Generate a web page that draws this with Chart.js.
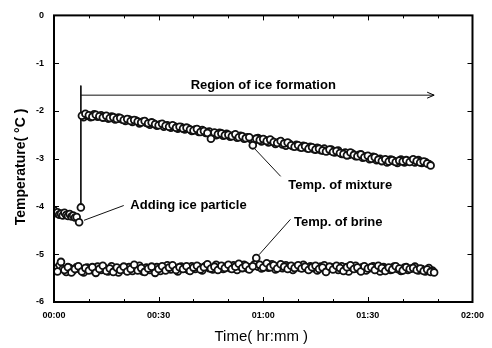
<!DOCTYPE html>
<html>
<head>
<meta charset="utf-8">
<script src="https://cdn.jsdelivr.net/npm/chart.js@4"></script>
<style>
  html, body { margin: 0; padding: 0; background: #fff; }
  #wrap { width: 492px; height: 348px; }
</style>
</head>
<body>
<div id="wrap"><canvas id="myChart" width="492" height="348"></canvas></div>
<script>
// time in minutes, temperature in deg C
const earlyTimes = [0, 0.5, 1, 1.5, 2, 2.5, 3, 3.5, 4, 4.5, 5, 5.5, 6, 6.5, 7.2, 7.7];
const earlyTemps = [-4.08, -4.14, -4.12, -4.17, -4.15, -4.19, -4.13, -4.18, -4.20, -4.16, -4.21, -4.19, -4.23, -4.22, -4.33, -4.02];

const mixTimes = [8, 9, 10, 11, 12, 13, 14, 15, 16, 17, 18, 19, 20, 21, 22, 23, 24, 25, 26, 27, 28, 29,
  30, 31, 32, 33, 34, 35, 36, 37, 38, 39, 40, 41, 42, 43, 44, 45, 46, 47, 48, 49, 50, 51, 52, 53, 54,
  55, 56, 57, 58, 59, 60, 61, 62, 63, 64, 65, 66, 67, 68, 69, 70, 71, 72, 73, 74, 75, 76, 77, 78, 79,
  80, 81, 82, 83, 84, 85, 86, 87, 88, 89, 90, 91, 92, 93, 94, 95, 96, 97, 98, 99, 100, 101, 102, 103,
  104, 105, 106, 107, 108];
const mixTemps = [-2.10, -2.06, -2.09, -2.12, -2.08, -2.11, -2.14, -2.10, -2.15, -2.13, -2.17, -2.15,
  -2.19, -2.17, -2.21, -2.19, -2.22, -2.24, -2.21, -2.26, -2.24, -2.28, -2.30, -2.27, -2.31, -2.33,
  -2.30, -2.35, -2.33, -2.37, -2.35, -2.39, -2.41, -2.38, -2.44, -2.42, -2.46, -2.58, -2.45, -2.49,
  -2.47, -2.51, -2.50, -2.53, -2.49, -2.55, -2.53, -2.57, -2.55, -2.72, -2.58, -2.61, -2.59, -2.63,
  -2.60, -2.65, -2.67, -2.63, -2.68, -2.66, -2.72, -2.75, -2.72, -2.77, -2.74, -2.79, -2.76, -2.81,
  -2.79, -2.83, -2.85, -2.81, -2.86, -2.84, -2.88, -2.90, -2.93, -2.87, -2.92, -2.95, -2.91, -2.97,
  -2.94, -3.00, -2.97, -3.02, -3.05, -3.01, -3.06, -3.03, -3.07, -3.04, -3.06, -3.03, -3.07, -3.01,
  -3.05, -3.08, -3.06, -3.10, -3.14];

// readings taken between the whole minutes
const mixHalfTimes = [
  8.5, 9.5, 10.5, 11.5, 12.5, 13.5, 14.5, 15.5, 16.5, 17.5,
  18.5, 19.5, 20.5, 21.5, 22.5, 23.5, 24.5, 25.5, 26.5, 27.5,
  28.5, 29.5, 30.5, 31.5, 32.5, 33.5, 34.5, 35.5, 36.5, 37.5,
  38.5, 39.5, 40.5, 41.5, 42.5, 43.5, 44.5, 45.5, 46.5, 47.5,
  48.5, 49.5, 50.5, 51.5, 52.5, 53.5, 54.5, 55.5, 56.5, 57.5,
  58.5, 59.5, 60.5, 61.5, 62.5, 63.5, 64.5, 65.5, 66.5, 67.5,
  68.5, 69.5, 70.5, 71.5, 72.5, 73.5, 74.5, 75.5, 76.5, 77.5,
  78.5, 79.5, 80.5, 81.5, 82.5, 83.5, 84.5, 85.5, 86.5, 87.5,
  88.5, 89.5, 90.5, 91.5, 92.5, 93.5, 94.5, 95.5, 96.5, 97.5,
  98.5, 99.5, 100.5, 101.5, 102.5, 103.5, 104.5, 105.5, 106.5, 107.5];
const mixHalfTemps = [
  -2.13, -2.10, -2.13, -2.07, -2.12, -2.09, -2.13, -2.16, -2.12, -2.18,
  -2.14, -2.18, -2.21, -2.18, -2.23, -2.20, -2.26, -2.22, -2.25, -2.29,
  -2.26, -2.31, -2.28, -2.33, -2.30, -2.35, -2.32, -2.37, -2.34, -2.39,
  -2.37, -2.42, -2.39, -2.44, -2.40, -2.46, -2.43, -2.48, -2.51, -2.46,
  -2.52, -2.48, -2.54, -2.51, -2.56, -2.52, -2.58, -2.55, -2.59, -2.62,
  -2.57, -2.64, -2.61, -2.66, -2.63, -2.69, -2.65, -2.70, -2.73, -2.69,
  -2.74, -2.71, -2.76, -2.73, -2.78, -2.75, -2.80, -2.77, -2.82, -2.79,
  -2.84, -2.81, -2.87, -2.83, -2.90, -2.87, -2.92, -2.89, -2.95, -2.92,
  -2.98, -2.95, -3.01, -2.96, -3.03, -3.00, -3.04, -3.08, -3.02, -3.05,
  -3.09, -3.02, -3.08, -3.05, -3.04, -3.08, -3.03, -3.09, -3.07, -3.11];

const brineTimes = [0, 1, 2, 3, 4, 5, 6, 7, 8, 9, 10, 11, 12, 13, 14, 15, 16, 17, 18, 19, 20, 21, 22,
  23, 24, 25, 26, 27, 28, 29, 30, 31, 32, 33, 34, 35, 36, 37, 38, 39, 40, 41, 42, 43, 44, 45, 46, 47,
  48, 49, 50, 51, 52, 53, 54, 55, 56, 57, 58, 59, 60, 61, 62, 63, 64, 65, 66, 67, 68, 69, 70, 71, 72,
  73, 74, 75, 76, 77, 78, 79, 80, 81, 82, 83, 84, 85, 86, 87, 88, 89, 90, 91, 92, 93, 94, 95, 96, 97,
  98, 99, 100, 101, 102, 103, 104, 105, 106, 107, 108, 109];
const brineTemps = [-5.30, -5.36, -5.16, -5.33, -5.27, -5.38, -5.31, -5.25, -5.36, -5.29, -5.34,
  -5.27, -5.39, -5.31, -5.24, -5.35, -5.30, -5.37, -5.28, -5.33, -5.26, -5.36, -5.31, -5.22, -5.34,
  -5.29, -5.37, -5.30, -5.26, -5.39, -5.31, -5.25, -5.34, -5.28, -5.23, -5.33, -5.27, -5.31, -5.25,
  -5.35, -5.28, -5.24, -5.32, -5.27, -5.21, -5.30, -5.26, -5.33, -5.24, -5.29, -5.22, -5.31, -5.26,
  -5.20, -5.29, -5.24, -5.32, -5.25, -5.08, -5.22, -5.28, -5.19, -5.27, -5.23, -5.30, -5.21, -5.26,
  -5.31, -5.24, -5.29, -5.23, -5.30, -5.26, -5.33, -5.27, -5.24, -5.31, -5.28, -5.37, -5.26, -5.32,
  -5.24, -5.29, -5.35, -5.27, -5.23, -5.31, -5.28, -5.36, -5.25, -5.30, -5.27, -5.33, -5.24, -5.29,
  -5.35, -5.28, -5.32, -5.25, -5.30, -5.34, -5.27, -5.31, -5.29, -5.33, -5.30, -5.35, -5.32, -5.37,
  -5.38];

const brineHalfTimes = [
  0.5, 1.5, 2.5, 3.5, 4.5, 5.5, 6.5, 7.5, 8.5, 9.5,
  10.5, 11.5, 12.5, 13.5, 14.5, 15.5, 16.5, 17.5, 18.5, 19.5,
  20.5, 21.5, 22.5, 23.5, 24.5, 25.5, 26.5, 27.5, 28.5, 29.5,
  30.5, 31.5, 32.5, 33.5, 34.5, 35.5, 36.5, 37.5, 38.5, 39.5,
  40.5, 41.5, 42.5, 43.5, 44.5, 45.5, 46.5, 47.5, 48.5, 49.5,
  50.5, 51.5, 52.5, 53.5, 54.5, 55.5, 56.5, 57.5, 58.5, 59.5,
  60.5, 61.5, 62.5, 63.5, 64.5, 65.5, 66.5, 67.5, 68.5, 69.5,
  70.5, 71.5, 72.5, 73.5, 74.5, 75.5, 76.5, 77.5, 78.5, 79.5,
  80.5, 81.5, 82.5, 83.5, 84.5, 85.5, 86.5, 87.5, 88.5, 89.5,
  90.5, 91.5, 92.5, 93.5, 94.5, 95.5, 96.5, 97.5, 98.5, 99.5,
  100.5, 101.5, 102.5, 103.5, 104.5, 105.5, 106.5, 107.5, 108.5];
const brineHalfTemps = [
  -5.33, -5.24, -5.31, -5.37, -5.29, -5.34, -5.27, -5.32, -5.38, -5.28,
  -5.31, -5.35, -5.26, -5.33, -5.29, -5.36, -5.25, -5.32, -5.38, -5.29,
  -5.33, -5.27, -5.35, -5.30, -5.24, -5.36, -5.28, -5.33, -5.31, -5.27,
  -5.35, -5.29, -5.23, -5.32, -5.28, -5.36, -5.26, -5.30, -5.33, -5.25,
  -5.31, -5.27, -5.34, -5.24, -5.29, -5.32, -5.22, -5.28, -5.31, -5.25,
  -5.29, -5.23, -5.33, -5.26, -5.22, -5.30, -5.27, -5.21, -5.26, -5.30,
  -5.24, -5.28, -5.21, -5.32, -5.25, -5.29, -5.23, -5.27, -5.33, -5.26,
  -5.28, -5.22, -5.30, -5.25, -5.29, -5.34, -5.26, -5.23, -5.31, -5.28,
  -5.27, -5.33, -5.25, -5.30, -5.36, -5.28, -5.24, -5.32, -5.27, -5.34,
  -5.29, -5.25, -5.31, -5.36, -5.27, -5.30, -5.33, -5.26, -5.31, -5.35,
  -5.28, -5.33, -5.30, -5.26, -5.34, -5.31, -5.36, -5.29, -5.34];

const xTicks = [0, 30, 60, 90, 120];
const xTickLabels = ['00:00', '00:30', '01:00', '01:30', '02:00'];
const yTicks = [0, -1, -2, -3, -4, -5, -6];

// annotation geometry, in data units
const bracketX = [7.7, 7.7];
const bracketY = [-1.47, -3.96];
const arrowX = [7.7, 109];
const arrowY = [-1.67, -1.67];
const mixLeaderX = [57.4, 65];
const mixLeaderY = [-2.78, -3.37];
const iceLeaderX = [8.6, 20];
const iceLeaderY = [-4.29, -3.98];
const brineLeaderX = [58.8, 67.8];
const brineLeaderY = [-5.01, -4.27];

const noteTexts = ['Region of ice formation', 'Temp. of mixture', 'Adding ice particle', 'Temp. of brine'];
const noteX = [60, 67.2, 21.9, 68.8];
const noteY = [-1.47, -3.55, -3.98, -4.33];
const noteAlign = ['center', 'left', 'left', 'left'];

function pairs(xs, ys) {
  return xs.map((x, i) => ({ x: x, y: ys[i] }));
}

const pointStyle = {
  showLine: false,
  pointRadius: 3.4,
  pointBorderWidth: 1.8,
  pointBorderColor: '#111',
  pointBackgroundColor: '#fff'
};

function lineSet(xs, ys) {
  return {
    data: pairs(xs, ys),
    showLine: true,
    pointRadius: 0,
    borderColor: '#111',
    borderWidth: 1
  };
}

const frame = {
  id: 'frame',
  afterDatasetsDraw(chart) {
    const ctx = chart.ctx;
    const a = chart.chartArea;
    const xs = chart.scales.x;
    const ys = chart.scales.y;
    ctx.save();
    ctx.strokeStyle = '#000';
    ctx.lineWidth = 2;
    ctx.strokeRect(a.left, a.top, a.right - a.left, a.bottom - a.top);

    ctx.lineWidth = 1;
    ctx.beginPath();
    for (let t = 0; t <= 120; t += 10) {
      const px = Math.round(xs.getPixelForValue(t)) + 0.5;
      const len = t % 30 === 0 ? 5 : 3;
      ctx.moveTo(px, a.bottom); ctx.lineTo(px, a.bottom - len);
      ctx.moveTo(px, a.top); ctx.lineTo(px, a.top + len);
    }
    yTicks.forEach(v => {
      const py = Math.round(ys.getPixelForValue(v)) + 0.5;
      ctx.moveTo(a.left, py); ctx.lineTo(a.left + 5, py);
      ctx.moveTo(a.right, py); ctx.lineTo(a.right - 5, py);
    });
    ctx.stroke();

    // arrow head
    const hx = xs.getPixelForValue(arrowX[1]);
    const hy = ys.getPixelForValue(arrowY[1]);
    ctx.beginPath();
    ctx.moveTo(hx - 7, hy - 3); ctx.lineTo(hx, hy); ctx.lineTo(hx - 7, hy + 3);
    ctx.stroke();

    // notes
    ctx.fillStyle = '#000';
    ctx.font = 'bold 13px "Liberation Sans", Arial, sans-serif';
    ctx.textBaseline = 'middle';
    noteTexts.forEach((t, i) => {
      ctx.textAlign = noteAlign[i];
      ctx.fillText(t, xs.getPixelForValue(noteX[i]), ys.getPixelForValue(noteY[i]));
    });

    // axis titles
    ctx.textAlign = 'center';
    ctx.font = '15px "Liberation Sans", Arial, sans-serif';
    ctx.fillText('Time( hr:mm )', (a.left + a.right) / 2 - 2, 337);
    ctx.save();
    ctx.font = 'bold 14px "Liberation Sans", Arial, sans-serif';
    ctx.translate(21, 167);
    ctx.rotate(-Math.PI / 2);
    ctx.fillText('Temperature( °C )', 0, 0);
    ctx.restore();
    ctx.restore();
  }
};

const canvas = document.getElementById('myChart');
const ctx = canvas.getContext('2d');
const config = {
  type: 'scatter',
  data: {
    datasets: [
      Object.assign({ data: pairs(brineTimes, brineTemps) }, pointStyle),
      Object.assign({ data: pairs(brineHalfTimes, brineHalfTemps) }, pointStyle),
      Object.assign({ data: pairs(mixTimes, mixTemps) }, pointStyle),
      Object.assign({ data: pairs(mixHalfTimes, mixHalfTemps) }, pointStyle),
      Object.assign({ data: pairs(earlyTimes, earlyTemps) }, pointStyle),
      lineSet(bracketX, bracketY),
      lineSet(arrowX, arrowY),
      lineSet(mixLeaderX, mixLeaderY),
      lineSet(iceLeaderX, iceLeaderY),
      lineSet(brineLeaderX, brineLeaderY)
    ]
  },
  options: {
    responsive: false,
    animation: false,
    layout: { padding: { top: 8, right: 17, left: 0, bottom: 0 } },
    plugins: { legend: { display: false }, tooltip: { enabled: false } },
    scales: {
      x: {
        type: 'linear',
        min: 0,
        max: 120,
        afterBuildTicks: s => { s.ticks = xTicks.map(v => ({ value: v })); },
        afterFit: s => { s.height = 46; },
        grid: { display: false, drawTicks: false },
        border: { display: false },
        ticks: {
          padding: 8,
          maxRotation: 0,
          color: '#000',
          font: { family: '"Liberation Sans", Arial, sans-serif', size: 9, weight: 'bold' },
          callback: (v) => xTickLabels[xTicks.indexOf(v)]
        }
      },
      y: {
        min: -6,
        max: 0,
        afterBuildTicks: s => { s.ticks = yTicks.map(v => ({ value: v })); },
        afterFit: s => { s.width = 54; },
        grid: { display: false, drawTicks: false },
        border: { display: false },
        ticks: {
          padding: 10,
          color: '#000',
          font: { family: '"Liberation Sans", Arial, sans-serif', size: 9, weight: 'bold' },
          callback: (v) => String(v)
        }
      }
    }
  },
  plugins: [frame]
};

var myChart = new Chart(ctx, config);
</script>
</body>
</html>
